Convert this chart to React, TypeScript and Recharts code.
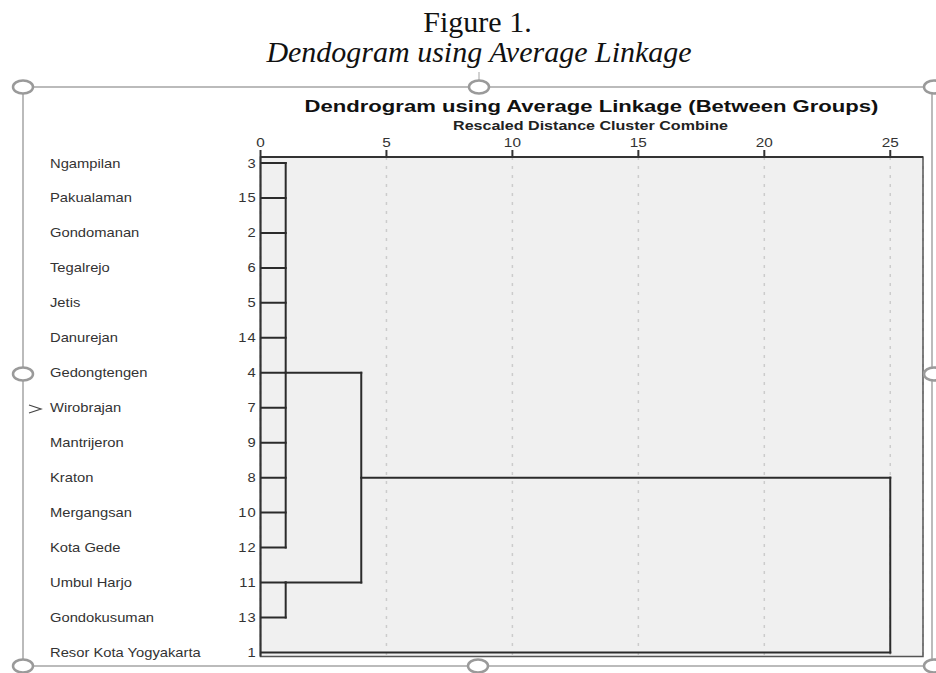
import { ComposedChart, Scatter, XAxis, YAxis, CartesianGrid, ReferenceArea } from "recharts";

// rows of the dendrogram, top to bottom
const rowNames = [
  "Ngampilan",
  "Pakualaman",
  "Gondomanan",
  "Tegalrejo",
  "Jetis",
  "Danurejan",
  "Gedongtengen",
  "Wirobrajan",
  "Mantrijeron",
  "Kraton",
  "Mergangsan",
  "Kota Gede",
  "Umbul Harjo",
  "Gondokusuman",
  "Resor Kota Yogyakarta",
];
const caseNumbers = [3, 15, 2, 6, 5, 14, 4, 7, 9, 8, 10, 12, 11, 13, 1];
const distanceTicks = [0, 5, 10, 15, 20, 25];

// each merge joins rows ("r#") or earlier merges ("m#") at a rescaled distance
const mergeDistances = [1, 1, 4, 25];
const mergeChildren = [
  ["r0", "r1", "r2", "r3", "r4", "r5", "r6", "r7", "r8", "r9", "r10", "r11"],
  ["r12", "r13"],
  ["m0", "m1"],
  ["m2", "r14"],
];
// row where the joined cluster leaves towards its parent
const mergeRows = [6, 12, 9, 14];

const X_MAX = 26.3;
const Y_DOMAIN: [number, number] = [-0.172, 14.116];
const SANS = "'Liberation Sans', Arial, sans-serif";
const SERIF = "'Liberation Serif', 'DejaVu Serif', serif";

type Pt = { x: number; y: number };

function buildSegments(): Pt[][] {
  const segs: Pt[][] = [];
  mergeChildren.forEach((kids, i) => {
    const d = mergeDistances[i];
    const ys = kids.map((k) => {
      const idx = Number(k.slice(1));
      const isRow = k[0] === "r";
      const y = isRow ? idx : mergeRows[idx];
      const fromX = isRow ? 0 : mergeDistances[idx];
      segs.push([
        { x: fromX, y },
        { x: d, y },
      ]);
      return y;
    });
    segs.push([
      { x: d, y: Math.min(...ys) },
      { x: d, y: Math.max(...ys) },
    ]);
  });
  return segs;
}

const segments = buildSegments();

const RowTick = (props: any) => {
  const { y, payload } = props;
  const i = payload.value;
  return (
    <g fontFamily={SANS} fontSize={12.5} fill="#333">
      <text transform={`translate(50,${y + 4.5}) scale(1.18,1)`} textAnchor="start">
        {rowNames[i]}
      </text>
      <text
        transform={`translate(257,${y + 4.5}) scale(1.18,1)`}
        textAnchor="end"
        letterSpacing={1}
      >
        {caseNumbers[i]}
      </text>
    </g>
  );
};

const DistTick = (props: any) => {
  const { x, y, payload } = props;
  return (
    <text
      transform={`translate(${x},${y - 1}) scale(1.18,1)`}
      textAnchor="middle"
      fontFamily={SANS}
      fontSize={13}
      fill="#333"
    >
      {payload.value}
    </text>
  );
};

const Handle = ({ cx, cy }: { cx: number; cy: number }) => (
  <ellipse cx={cx} cy={cy} rx={10} ry={6.5} fill="#fff" stroke="#9a9a9a" strokeWidth={2.5} />
);

export default function App() {
  return (
    <div style={{ position: "absolute", left: 0, top: 0, width: 936, height: 673, background: "#fff" }}>
      <ComposedChart
        width={936}
        height={673}
        margin={{ top: 0, right: 13, bottom: 16.5, left: 0 }}
        style={{ position: "absolute", left: 0, top: 0 }}
      >
        <CartesianGrid
          horizontal={false}
          fill="#f0f0f0"
          stroke="#cccccc"
          strokeWidth={1.5}
          strokeDasharray="3 6"
        />
        <ReferenceArea
          x1={0}
          x2={X_MAX}
          y1={Y_DOMAIN[0]}
          y2={Y_DOMAIN[1]}
          fill="none"
          stroke="#555"
          strokeWidth={1.5}
          ifOverflow="visible"
        />
        <XAxis
          type="number"
          dataKey="x"
          orientation="top"
          domain={[0, X_MAX]}
          ticks={distanceTicks}
          interval={0}
          height={157}
          tickSize={7}
          axisLine={{ stroke: "#333", strokeWidth: 2 }}
          tickLine={{ stroke: "#333", strokeWidth: 2 }}
          tick={<DistTick />}
          allowDataOverflow
        />
        <YAxis
          type="number"
          dataKey="y"
          domain={Y_DOMAIN}
          reversed
          ticks={rowNames.map((_, i) => i)}
          interval={0}
          width={260.5}
          axisLine={{ stroke: "#333", strokeWidth: 2 }}
          tickLine={false}
          tick={<RowTick />}
          allowDataOverflow
        />
        {segments.map((seg, i) => (
          <Scatter
            key={i}
            data={seg}
            dataKey="y"
            line={{ stroke: "#2b2b2b", strokeWidth: 2, strokeLinecap: "square" }}
            shape={() => <g />}
            legendType="none"
            isAnimationActive={false}
          />
        ))}
      </ComposedChart>

      <svg
        width={936}
        height={673}
        style={{ position: "absolute", left: 0, top: 0, pointerEvents: "none" }}
      >
        <text x={477.5} y={32} textAnchor="middle" fontFamily={SERIF} fontSize={30} fill="#111">
          Figure 1.
        </text>
        <text
          x={479}
          y={62}
          textAnchor="middle"
          fontFamily={SERIF}
          fontStyle="italic"
          fontSize={30}
          fill="#111"
        >
          Dendogram using Average Linkage
        </text>

        {/* picture selection frame */}
        <rect x={23} y={87} width={909} height={579} fill="none" stroke="#a5a5a5" strokeWidth={1.5} />
        <line x1={479} y1={72} x2={479} y2={82} stroke="#a5a5a5" strokeWidth={1} />
        <Handle cx={23} cy={87} />
        <Handle cx={479} cy={87} />
        <Handle cx={934} cy={87} />
        <Handle cx={23} cy={374} />
        <Handle cx={934} cy={374} />
        <Handle cx={23} cy={666} />
        <Handle cx={478} cy={666} />
        <Handle cx={934} cy={666} />
        <polyline points="29,405 41,409 29,413" fill="none" stroke="#444" strokeWidth={1.2} />

        <text
          transform="translate(591.5,112) scale(1.3,1)"
          textAnchor="middle"
          fontFamily={SANS}
          fontWeight="bold"
          fontSize={17}
          fill="#111"
        >
          Dendrogram using Average Linkage (Between Groups)
        </text>
        <text
          transform="translate(590.5,130) scale(1.34,1)"
          textAnchor="middle"
          fontFamily={SANS}
          fontWeight="bold"
          fontSize={12}
          fill="#222"
        >
          Rescaled Distance Cluster Combine
        </text>
      </svg>
    </div>
  );
}
